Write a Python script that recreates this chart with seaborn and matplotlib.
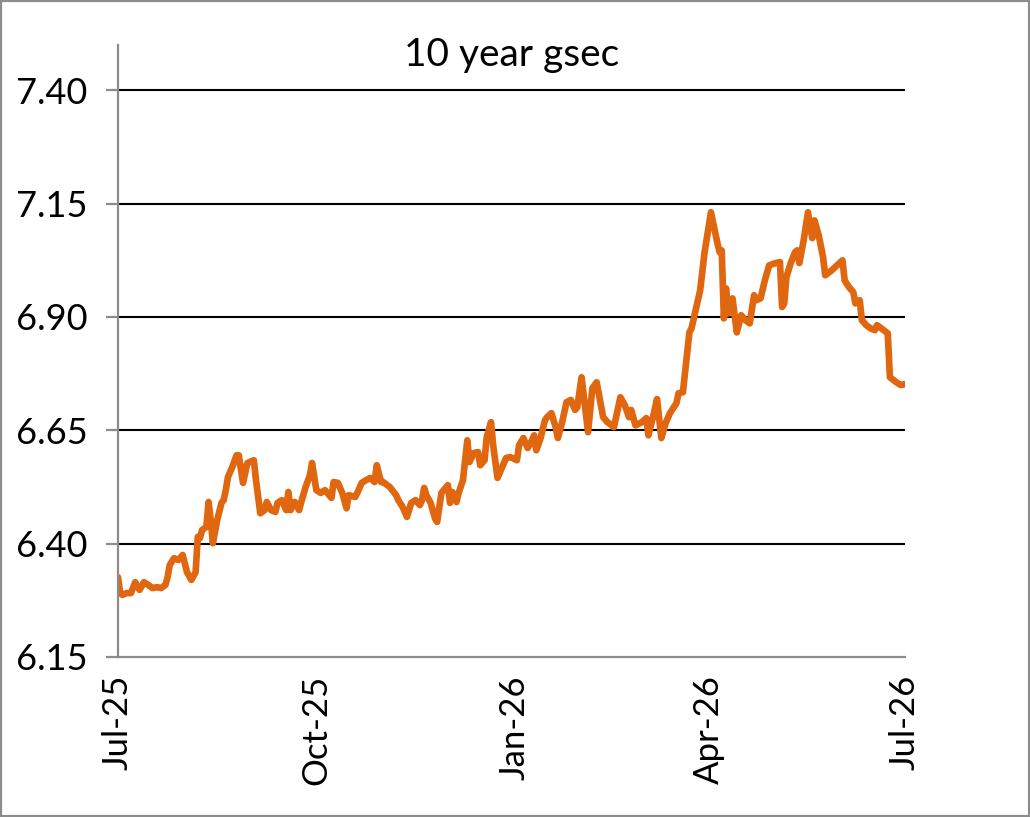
import pandas as pd
import numpy as np
import seaborn as sns
import matplotlib.pyplot as plt
import matplotlib.dates as mdates
from matplotlib.patches import Rectangle

# 10 year gsec yield
dates = [
    "2025-07-01", "2025-07-02", "2025-07-03", "2025-07-05", "2025-07-07", "2025-07-09",
    "2025-07-11", "2025-07-13", "2025-07-15", "2025-07-17", "2025-07-19", "2025-07-21",
    "2025-07-23", "2025-07-24", "2025-07-25", "2025-07-27", "2025-07-29", "2025-07-31",
    "2025-08-02", "2025-08-04", "2025-08-06", "2025-08-07", "2025-08-08", "2025-08-09",
    "2025-08-11", "2025-08-12", "2025-08-13", "2025-08-14", "2025-08-16", "2025-08-18",
    "2025-08-19", "2025-08-20", "2025-08-21", "2025-08-23", "2025-08-25", "2025-08-26",
    "2025-08-28", "2025-08-30", "2025-09-02", "2025-09-03", "2025-09-05", "2025-09-07",
    "2025-09-08", "2025-09-10", "2025-09-12", "2025-09-13", "2025-09-15", "2025-09-17",
    "2025-09-18", "2025-09-19", "2025-09-21", "2025-09-23", "2025-09-24", "2025-09-26",
    "2025-09-28", "2025-09-29", "2025-10-01", "2025-10-03", "2025-10-05", "2025-10-08",
    "2025-10-09", "2025-10-11", "2025-10-13", "2025-10-15", "2025-10-16", "2025-10-19",
    "2025-10-20", "2025-10-22", "2025-10-24", "2025-10-26", "2025-10-28", "2025-10-29",
    "2025-10-31", "2025-11-01", "2025-11-04", "2025-11-07", "2025-11-08", "2025-11-10",
    "2025-11-12", "2025-11-14", "2025-11-16", "2025-11-18", "2025-11-19", "2025-11-20",
    "2025-11-21", "2025-11-23", "2025-11-25", "2025-11-26", "2025-11-28", "2025-12-01",
    "2025-12-02", "2025-12-03", "2025-12-05", "2025-12-06", "2025-12-08", "2025-12-10",
    "2025-12-11", "2025-12-13", "2025-12-15", "2025-12-16", "2025-12-18", "2025-12-19",
    "2025-12-21", "2025-12-22", "2025-12-24", "2025-12-26", "2025-12-28", "2025-12-30",
    "2026-01-02", "2026-01-03", "2026-01-05", "2026-01-07", "2026-01-09", "2026-01-10",
    "2026-01-11", "2026-01-13", "2026-01-15", "2026-01-16", "2026-01-18", "2026-01-20",
    "2026-01-21", "2026-01-23", "2026-01-25", "2026-01-27", "2026-01-29", "2026-01-30",
    "2026-02-01", "2026-02-04", "2026-02-06", "2026-02-08", "2026-02-11", "2026-02-13",
    "2026-02-16", "2026-02-19", "2026-02-21", "2026-02-23", "2026-02-24", "2026-02-26",
    "2026-03-01", "2026-03-03", "2026-03-04", "2026-03-06", "2026-03-08", "2026-03-10",
    "2026-03-12", "2026-03-14", "2026-03-17", "2026-03-18", "2026-03-20", "2026-03-23",
    "2026-03-24", "2026-03-28", "2026-03-30", "2026-04-02", "2026-04-05", "2026-04-06",
    "2026-04-07", "2026-04-08", "2026-04-09", "2026-04-10", "2026-04-12", "2026-04-14",
    "2026-04-16", "2026-04-18", "2026-04-20", "2026-04-22", "2026-04-23", "2026-04-25",
    "2026-04-27", "2026-04-29", "2026-05-02", "2026-05-04", "2026-05-05", "2026-05-06",
    "2026-05-07", "2026-05-09", "2026-05-11", "2026-05-12", "2026-05-13", "2026-05-15",
    "2026-05-17", "2026-05-19", "2026-05-20", "2026-05-22", "2026-05-24", "2026-05-25",
    "2026-05-28", "2026-06-02", "2026-06-03", "2026-06-05", "2026-06-07", "2026-06-08",
    "2026-06-10", "2026-06-11", "2026-06-13", "2026-06-15", "2026-06-17", "2026-06-18",
    "2026-06-20", "2026-06-23", "2026-06-24", "2026-06-27", "2026-06-29", "2026-07-01",
]
yields = [
    6.326, 6.291, 6.287, 6.291, 6.291, 6.315, 6.298, 6.315, 6.309, 6.302, 6.304, 6.302,
    6.309, 6.326, 6.353, 6.368, 6.364, 6.375, 6.337, 6.320, 6.337, 6.415, 6.412, 6.430,
    6.437, 6.492, 6.452, 6.401, 6.452, 6.490, 6.496, 6.518, 6.547, 6.569, 6.595, 6.595,
    6.534, 6.578, 6.584, 6.540, 6.467, 6.474, 6.492, 6.474, 6.470, 6.490, 6.496, 6.474,
    6.514, 6.474, 6.492, 6.474, 6.492, 6.525, 6.551, 6.578, 6.518, 6.512, 6.518, 6.501,
    6.536, 6.534, 6.512, 6.478, 6.507, 6.503, 6.512, 6.534, 6.540, 6.545, 6.536, 6.573,
    6.536, 6.536, 6.525, 6.507, 6.496, 6.481, 6.459, 6.490, 6.496, 6.485, 6.496, 6.523,
    6.507, 6.490, 6.456, 6.448, 6.512, 6.529, 6.490, 6.514, 6.492, 6.512, 6.540, 6.628,
    6.580, 6.600, 6.602, 6.573, 6.584, 6.635, 6.668, 6.617, 6.545, 6.567, 6.589, 6.591,
    6.584, 6.617, 6.633, 6.611, 6.628, 6.639, 6.606, 6.633, 6.672, 6.679, 6.688, 6.657,
    6.633, 6.668, 6.712, 6.717, 6.695, 6.701, 6.767, 6.646, 6.743, 6.756, 6.679, 6.668,
    6.657, 6.723, 6.706, 6.679, 6.695, 6.661, 6.668, 6.677, 6.639, 6.677, 6.719, 6.633,
    6.666, 6.688, 6.710, 6.732, 6.734, 6.866, 6.875, 6.959, 7.041, 7.131, 7.063, 7.043,
    7.047, 6.897, 6.963, 6.908, 6.941, 6.866, 6.904, 6.893, 6.886, 6.948, 6.937, 6.941,
    6.981, 7.014, 7.019, 7.021, 6.922, 6.930, 6.988, 7.019, 7.043, 7.047, 7.019, 7.069,
    7.131, 7.074, 7.113, 7.080, 7.032, 6.992, 7.003, 7.025, 6.981, 6.966, 6.955, 6.930,
    6.937, 6.893, 6.882, 6.875, 6.871, 6.882, 6.875, 6.864, 6.767, 6.756, 6.750, 6.752,
]
y_ticks = [6.15, 6.40, 6.65, 6.90, 7.15, 7.40]
x_ticks = ["2025-07-01", "2025-10-01", "2026-01-01", "2026-04-01", "2026-07-01"]

df = pd.DataFrame({"date": pd.to_datetime(dates), "yield": yields})

sns.set_theme(style="white")
plt.rcParams["font.family"] = ["Lato", "DejaVu Sans"]

fig = plt.figure(figsize=(10.30, 8.17), dpi=100)
ax = fig.add_axes([118 / 1030, 1 - 657 / 817, (905 - 118) / 1030, (657 - 45) / 817])

sns.lineplot(data=df, x="date", y="yield", ax=ax, color="#E0660F", linewidth=4.8)

ax.set_ylim(6.15, 7.50)
ax.set_xlim(pd.Timestamp("2025-07-01"), pd.Timestamp("2026-07-01"))
ax.set_yticks(y_ticks)
ax.set_yticklabels([f"{t:.2f}" for t in y_ticks])
ax.set_xticks(pd.to_datetime(x_ticks))
ax.xaxis.set_major_formatter(mdates.DateFormatter("%b-%y"))
ax.set_xlabel("")
ax.set_ylabel("")

for t in y_ticks[1:]:
    ax.axhline(t, color="black", linewidth=1.5, zorder=1)

for side in ["top", "right"]:
    ax.spines[side].set_visible(False)
for side in ["left", "bottom"]:
    ax.spines[side].set_color("#8c8c8c")
    ax.spines[side].set_linewidth(1.6)

ax.tick_params(axis="y", length=9, width=1.6, color="#8c8c8c", pad=13,
               labelsize=26, labelcolor="black", left=True)
ax.tick_params(axis="x", length=0, pad=13, labelsize=25, labelcolor="black",
               labelrotation=90)

fig.text(0.5 * (118 + 905) / 1030, 1 - 55 / 817, "10 year gsec", ha="center",
         va="center", fontsize=28, color="black")

fig.patches.append(Rectangle((0, 0), 1, 1, transform=fig.transFigure, fill=False,
                             edgecolor="#8c8c8c", linewidth=3))

fig.savefig("out.png", dpi=100)
